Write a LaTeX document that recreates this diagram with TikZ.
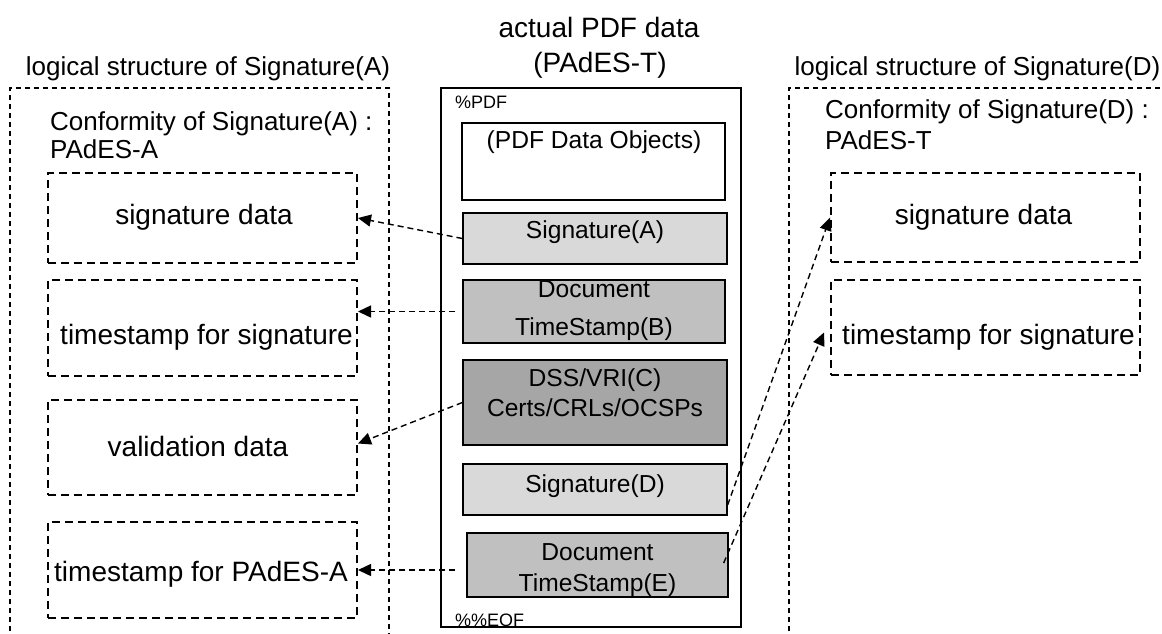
\documentclass[tikz,border=0pt]{standalone}
\usepackage{fontspec}
\setmainfont{Liberation Sans}
\usetikzlibrary{arrows.meta}
\definecolor{lightfill}{HTML}{D9D9D9}
\definecolor{midfill}{HTML}{C0C0C0}
\definecolor{darkfill}{HTML}{A6A6A6}
\tikzset{
 outerbox/.style={draw, line width=1.2pt, dash pattern=on 5pt off 4pt},
 lbox/.style={draw, line width=2pt, dash pattern=on 8pt off 5pt, minimum width=309pt, inner sep=0pt},
 pbox/.style={draw, line width=1.3pt, inner sep=0pt},
 conn/.style={line width=1.4pt, dash pattern=on 6pt off 4pt, -{Triangle[length=13pt,width=12pt]}},
 bigtxt/.style={font=\fontsize{28}{33}\selectfont, anchor=base, inner sep=0pt},
 midtxt/.style={font=\fontsize{26}{31}\selectfont, anchor=base, inner sep=0pt},
 objtxt/.style={font=\fontsize{24.6}{30}\selectfont, anchor=base, inner sep=0pt},
 smalltxt/.style={font=\fontsize{18}{22}\selectfont, anchor=base west, inner sep=0pt},
}
\begin{document}
\begin{tikzpicture}[x=1pt,y=-1pt]
\useasboundingbox (0,0) rectangle (1162,633);
% outer logical boxes
\draw[outerbox] (10,640) -- (10,88) -- (389,88) -- (389,640);
\draw[outerbox] (789,640) -- (789,88) -- (1170,88);
% titles
\node[midtxt] (titleA) at (208,75) {logical structure of Signature(A)};
\node[midtxt] (titleD) at (977.5,75) {logical structure of Signature(D)};
\node[bigtxt] (titleP1) at (599,37) {actual PDF data};
\node[bigtxt] (titleP2) at (600,72) {(PAdES-T)};
% conformity
\node[midtxt, anchor=base west] (confA1) at (50,130) {Conformity of Signature(A) :};
\node[midtxt, anchor=base west] (confA2) at (50,158) {PAdES-A};
\node[midtxt, anchor=base west] (confD1) at (825,118) {Conformity of Signature(D) :};
\node[midtxt, anchor=base west] (confD2) at (825,149) {PAdES-T};
% left logical boxes
\node[lbox, minimum height=90pt] (sigL) at (202.5,218) {};
\node[lbox, minimum height=96pt] (tsL) at (202.5,328) {};
\node[lbox, minimum height=95pt] (valL) at (202.5,447.5) {};
\node[lbox, minimum height=96pt] (tpa) at (202.5,570) {};
\node[bigtxt] (sigLt) at (204,224) {signature data};
\node[bigtxt] (tsLt) at (206.5,344) {timestamp for signature};
\node[bigtxt] (valLt) at (198,456) {validation data};
\node[bigtxt] (tpat) at (201,581) {timestamp for PAdES-A};
% right logical boxes
\node[lbox, minimum height=89pt] (sigR) at (985.5,217.5) {};
\node[lbox, minimum height=95pt] (tsR) at (985.5,327.5) {};
\node[bigtxt] (sigRt) at (983.5,224) {signature data};
\node[bigtxt] (tsRt) at (988.5,344) {timestamp for signature};
% PDF container
\node[smalltxt] (eof) at (455,626) {\%\%EOF};
\node[pbox, minimum width=300pt, minimum height=539pt] (pdf) at (591,357.5) {};
\node[smalltxt] (pdfh) at (455,108) {\%PDF};
\node[pbox, fill=white, minimum width=263pt, minimum height=77pt] (objs) at (593.5,161.5) {};
\node[objtxt] (objst) at (594,148) {(PDF Data Objects)};
\node[pbox, fill=lightfill, minimum width=264pt, minimum height=51pt] (sigA) at (595,238.5) {};
\node[objtxt] (sigAt) at (595,238) {Signature(A)};
\node[pbox, fill=midfill, minimum width=262pt, minimum height=63pt] (tsB) at (594,311.5) {};
\node[objtxt] (tsBt1) at (594,297.5) {Document};
\node[objtxt] (tsBt2) at (594,335) {TimeStamp(B)};
\node[pbox, fill=darkfill, minimum width=264pt, minimum height=85pt] (dss) at (595,402.5) {};
\node[objtxt] (dsst1) at (595,386.5) {DSS/VRI(C)};
\node[objtxt] (dsst2) at (595,416.5) {Certs/CRLs/OCSPs};
\node[pbox, fill=lightfill, minimum width=264pt, minimum height=51pt] (sigD) at (595,489.5) {};
\node[objtxt] (sigDt) at (595,492.5) {Signature(D)};
\node[pbox, fill=midfill, minimum width=261pt, minimum height=64pt] (tsE) at (597.5,565) {};
\node[objtxt] (tsEt1) at (597.5,560) {Document};
\node[objtxt] (tsEt2) at (597.5,591.5) {TimeStamp(E)};
% connectors
\draw[conn] (sigA.west) -- (sigL.east);
\draw[conn] ([xshift=-7pt]tsB.west) -- (tsL.east |- tsB.west);
\draw[conn] (dss.west) -- ([yshift=4pt]valL.east);
\draw[conn] ([xshift=-11pt]tsE.west |- tpa.east) -- (tpa.east);
\draw[conn] ([yshift=-15.5pt]sigD.east) -- (sigR.west);
\draw[conn] ([xshift=-5pt,yshift=2pt]tsE.east) -- ([xshift=-6pt,yshift=-5pt]tsR.west);
\end{tikzpicture}
\end{document}
